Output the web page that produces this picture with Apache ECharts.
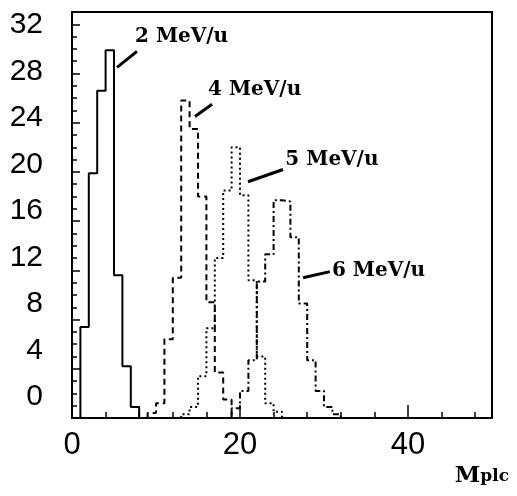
<!DOCTYPE html>
<html><head><meta charset="utf-8">
<script src="https://cdn.jsdelivr.net/npm/echarts@6/dist/echarts.min.js"></script>
<style>html,body{margin:0;padding:0;background:#fff}#c{width:517px;height:496px}</style>
</head><body><div id="c"></div>
<script>
// ---- data (percent per multiplicity bin, bins of width 1) ----
const xLabelValues = [0, 20, 40];
const yLabelValues = [0, 4, 8, 12, 16, 20, 24, 28, 32];
const names = ['2 MeV/u', '4 MeV/u', '5 MeV/u', '6 MeV/u'];
const start2 = 1;
const mev2 = [7.4, 19.9, 26.6, 29.9, 11.6, 4.2, 0.9];
const start4 = 9;
const mev4 = [0.4, 1.2, 6.4, 11.4, 25.8, 23.5, 18.0, 9.4, 3.7, 1.5];
const start5 = 13;
const mev5 = [0.3, 0.9, 3.4, 7.3, 13.0, 18.5, 22.0, 18.1, 11.2, 5.0, 1.2, 0.5];
const start6 = 19;
const mev6 = [0.8, 2.2, 4.7, 11.1, 13.3, 17.7, 17.6, 14.7, 9.3, 4.7, 2.2, 0.9, 0.3];

// annotation anchors (data coordinates)
const labelAnchors = [[7.5, 31.0], [16.2, 26.7], [25.4, 21.0], [30.95, 12.0]];
const pointerFrom = [[5.36, 28.5], [14.64, 24.5], [20.95, 19.2], [27.5, 11.4]];
const pointerTo = [[7.74, 29.8], [16.67, 25.5], [25.12, 20.2], [30.7, 11.9]];

function steps(start, vals) {
  const d = [[start, 0]];
  vals.forEach((v, i) => d.push([start + i, v]));
  d.push([start + vals.length, 0]);
  return d;
}

const chart = echarts.init(document.getElementById('c'), null, {renderer: 'canvas'});
const styles = [
  {type: 'solid', width: 2},
  {type: [6, 4], width: 2},
  {type: [2, 3], width: 2},
  {type: [6, 3, 2, 3], width: 2}
];
const datasets = [steps(start2, mev2), steps(start4, mev4), steps(start5, mev5), steps(start6, mev6)];
const labelFont = {fontFamily: 'DejaVu Serif', fontWeight: 'bold', fontSize: 20, color: '#000'};

const series = datasets.map((d, i) => ({
  type: 'line', name: names[i], step: 'end', data: d, symbol: 'none',
  xAxisIndex: 0, yAxisIndex: 0,
  lineStyle: Object.assign({color: '#000'}, styles[i]),
  animation: false, z: 3,
  markLine: {
    silent: true, symbol: 'none', animation: false,
    lineStyle: {type: 'solid', width: 3, color: '#000'},
    label: {show: false},
    data: [[{coord: pointerFrom[i]}, {coord: pointerTo[i]}]]
  },
  markPoint: {
    silent: true, symbol: 'circle', symbolSize: 0, animation: false,
    data: [{coord: labelAnchors[i], label: Object.assign({show: true, formatter: names[i], position: 'right', distance: 0}, labelFont)}]
  }
}));

const tickStyle = {color: '#000', width: 1.5};
chart.setOption({
  backgroundColor: '#fff',
  animation: false,
  grid: {left: 72, right: 25, top: 12, bottom: 78, show: true, borderColor: '#000', borderWidth: 2, containLabel: false, outerBoundsMode: 'none'},
  xAxis: [{
    type: 'value', min: 0, max: 50, interval: 4, position: 'bottom',
    axisLine: {show: true, onZero: false, lineStyle: {color: '#000', width: 2}},
    axisTick: {show: true, inside: true, length: 6, lineStyle: tickStyle},
    axisLabel: {
      show: true, margin: 12, color: '#000', fontFamily: 'Liberation Sans', fontSize: 31,
      formatter: v => (xLabelValues.indexOf(v) >= 0 ? String(v) : '')
    },
    splitLine: {show: false}
  }, {
    type: 'value', min: 0, max: 50, interval: 20, position: 'bottom',
    axisLine: {show: false, onZero: false},
    axisTick: {show: true, inside: true, length: 13, lineStyle: tickStyle},
    axisLabel: {show: false}, splitLine: {show: false}
  }],
  yAxis: [{
    type: 'value', min: 0, max: 33, interval: 4, position: 'left',
    axisLine: {show: true, onZero: false, lineStyle: {color: '#000', width: 2}},
    axisTick: {show: true, inside: true, length: 8, lineStyle: tickStyle},
    minorTick: {show: true, splitNumber: 4, length: 5, lineStyle: tickStyle},
    axisLabel: {show: false},
    splitLine: {show: false}, minorSplitLine: {show: false}
  }, {
    type: 'value', min: -1.806, max: 33.12, position: 'left',
    axisLine: {show: false, onZero: false}, axisTick: {show: false},
    axisLabel: {show: true, customValues: yLabelValues, margin: 29, color: '#000', fontFamily: 'Liberation Sans', fontSize: 30},
    splitLine: {show: false}
  }],
  series: series,
  graphic: [{
    type: 'text', right: 8, top: 465,
    style: {
      text: '{a|M}{b|plc}',
      rich: {
        a: {fontFamily: 'DejaVu Serif', fontWeight: 'bold', fontSize: 23, fill: '#000'},
        b: {fontFamily: 'DejaVu Serif', fontWeight: 'bold', fontSize: 17, fill: '#000'}
      }
    }
  }]
});
</script></body></html>
